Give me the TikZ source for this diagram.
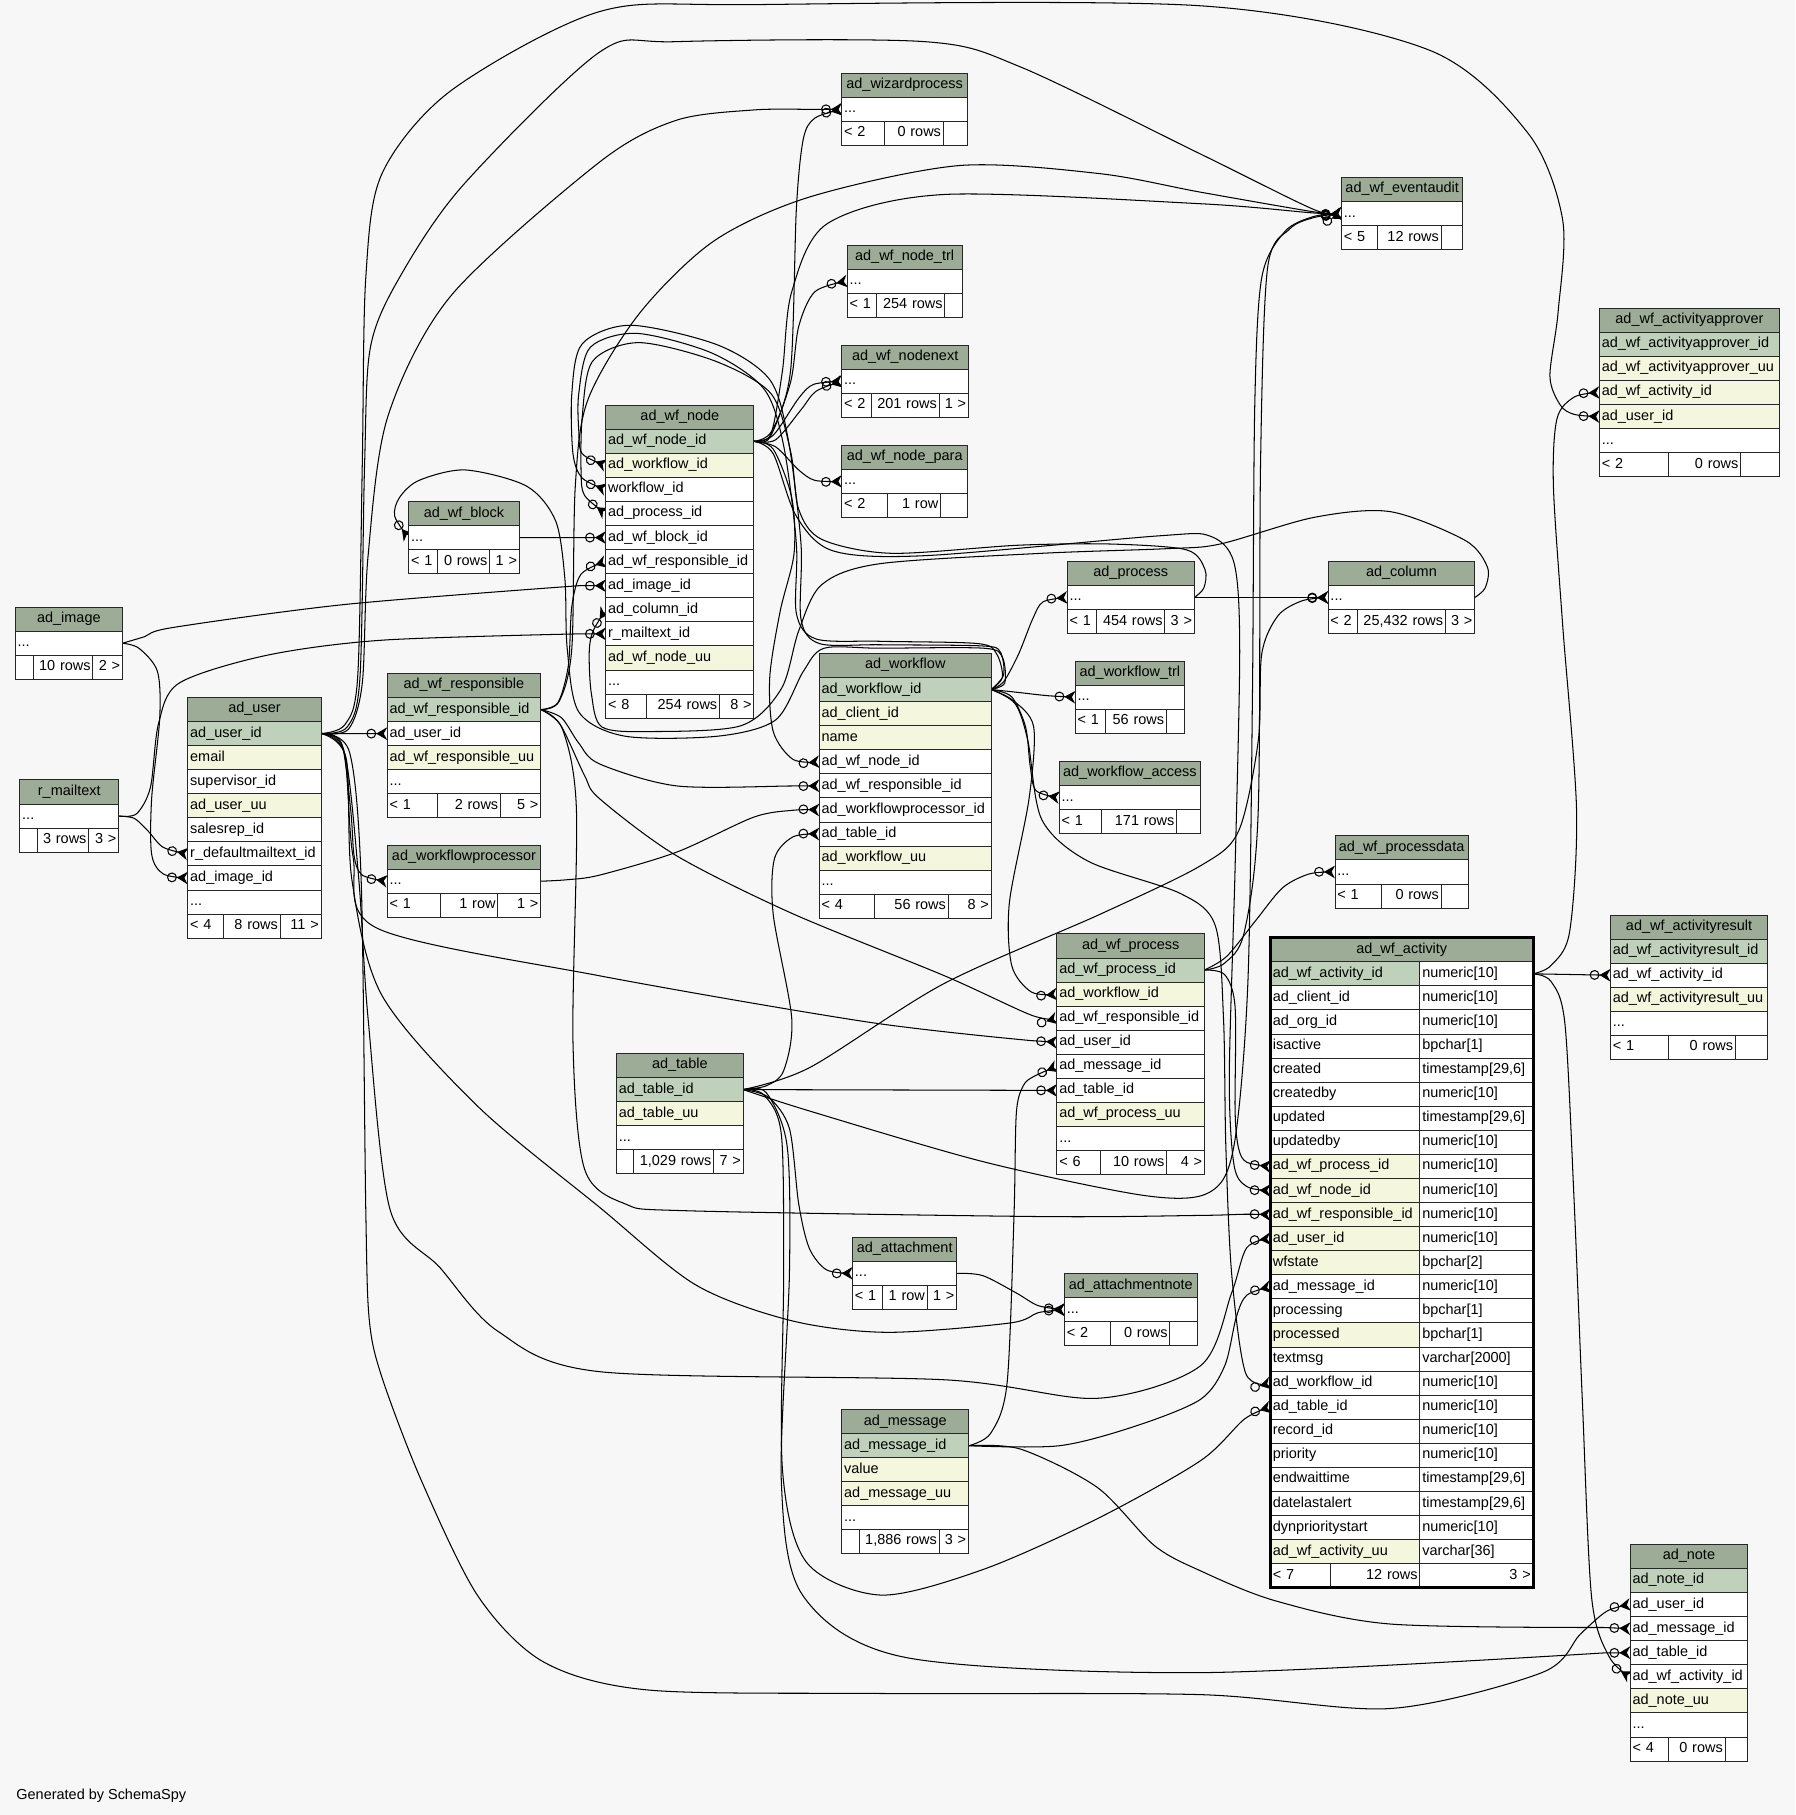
\documentclass[tikz,border=0pt]{standalone}
\usepackage{fontspec}
\setmainfont{Liberation Sans}
\usepackage{tikz}
\usetikzlibrary{arrows.meta}
\pgfdeclarelayer{bg}
\pgfsetlayers{bg,main}
\definecolor{hdg}{RGB}{157,172,150}
\definecolor{pkg}{RGB}{191,209,186}
\definecolor{ixy}{RGB}{244,247,221}
\definecolor{bgc}{RGB}{247,247,247}
\newcommand{\tblfont}{\fontsize{12.5}{15}\selectfont}
\newcommand{\ellip}{...}
\hyphenpenalty=10000
\exhyphenpenalty=10000
\tikzset{
  cell/.style={draw=black!85, line width=0.8pt, anchor=north west, outer sep=0pt, minimum height=20.8, inner xsep=2pt, inner ysep=0pt, text height=9pt, text depth=3pt, font=\tblfont, align=left},
  hdcell/.style={cell, fill=hdg, align=center},
  rel/.style={line width=0.9pt, -{Circle[open,length=8.5pt,width=8.5pt] Stealth[reversed,length=9.5pt,width=11pt,inset=3pt]}}
}
% table: name, x, y, width, title, rows (key/colour/text)
\newcommand{\dbtable}[6]{%
  \node[hdcell, minimum width=#4, text width=#4-4] (#1) at (#2,#3) {#5};
  \foreach \rk/\rc/\rt [count=\rn] in {#6}
    \node[cell, fill=\rc, minimum width=#4, text width=#4-4] (#1-\rk) at (#2,#3+20.8*\rn) {\rt};
}
% footer: name, y, x0, x1, x2, x3, three texts
\newcommand{\dbfoot}[9]{%
  \node[cell, fill=white, minimum width=#4-#3, text width=#4-#3-4] (#1-f1) at (#3,#2) {#7};
  \node[cell, fill=white, minimum width=#5-#4, text width=#5-#4-4, align=right] (#1-f2) at (#4,#2) {#8};
  \node[cell, fill=white, minimum width=#6-#5, text width=#6-#5-4, align=right] (#1-f3) at (#5,#2) {#9};
}
\begin{document}
\begin{tikzpicture}[x=1pt, y=-1pt]
\useasboundingbox (0,0) rectangle (1551,1568);
% tables
\dbtable{wizard}{727.3}{63.3}{108.5}{ad\_wizardprocess}{dots/white/\ellip}
\dbfoot{wizard}{104.9}{727.3}{764.3}{814.9}{835.8}{< 2}{0 rows}{}
\dbtable{eventaudit}{1158.9}{153.3}{104.9}{ad\_wf\_eventaudit}{dots/white/\ellip}
\dbfoot{eventaudit}{194.9}{1158.9}{1189.7}{1245.1}{1263.8}{< 5}{12 rows}{}
\dbtable{nodetrl}{731.9}{211.7}{99.2}{ad\_wf\_node\_trl}{dots/white/\ellip}
\dbfoot{nodetrl}{253.3}{731.9}{757.4}{816.3}{831.1}{< 1}{254 rows}{}
\dbtable{nodenext}{727.3}{298.3}{109.4}{ad\_wf\_nodenext}{dots/white/\ellip}
\dbfoot{nodenext}{339.9}{727.3}{752.5}{811.3}{836.7}{< 2}{201 rows}{1 >}
\dbtable{nodepara}{727.3}{384.7}{108.5}{ad\_wf\_node\_para}{dots/white/\ellip}
\dbfoot{nodepara}{426.3}{727.3}{766.3}{812.6}{835.8}{< 2}{1 row}{}
\dbtable{approver}{1381.8}{266.3}{155.4}{ad\_wf\_activityapprover}{id/pkg/ad\_wf\_activityapprover\_id,uu/ixy/ad\_wf\_activityapprover\_uu,act/ixy/ad\_wf\_activity\_id,user/ixy/ad\_user\_id,dots/white/\ellip}
\dbfoot{approver}{391.1}{1381.8}{1441.8}{1503.8}{1537.2}{< 2}{0 rows}{}
\dbtable{wfnode}{523.4}{350}{127.9}{ad\_wf\_node}{id/pkg/ad\_wf\_node\_id,wf/ixy/ad\_workflow\_id,wf2/white/workflow\_id,proc/white/ad\_process\_id,blk/white/ad\_wf\_block\_id,resp/white/ad\_wf\_responsible\_id,img/white/ad\_image\_id,col/white/ad\_column\_id,mail/white/r\_mailtext\_id,uu/ixy/ad\_wf\_node\_uu,dots/white/\ellip}
\dbfoot{wfnode}{599.6}{523.4}{558.2}{621.6}{651.3}{< 8}{254 rows}{8 >}
\dbtable{block}{353.1}{433.3}{95.5}{ad\_wf\_block}{dots/white/\ellip}
\dbfoot{block}{474.9}{353.1}{377.9}{423.1}{448.6}{< 1}{0 rows}{1 >}
\dbtable{process}{922}{485}{109.8}{ad\_process}{dots/white/\ellip}
\dbfoot{process}{526.6}{922}{947.2}{1006.3}{1031.8}{< 1}{454 rows}{3 >}
\dbtable{column}{1147.4}{485}{126.6}{ad\_column}{dots/white/\ellip}
\dbfoot{column}{526.6}{1147.4}{1172.3}{1248.7}{1274}{< 2}{25,432 rows}{3 >}
\dbtable{image}{13.2}{524.5}{92.6}{ad\_image}{dots/white/\ellip}
\dbfoot{image}{566.1}{13.2}{29.1}{80.3}{105.8}{}{10 rows}{2 >}
\dbtable{user}{162.3}{602.5}{115.1}{ad\_user}{id/pkg/ad\_user\_id,email/ixy/email,sup/white/supervisor\_id,uu/ixy/ad\_user\_uu,rep/white/salesrep\_id,mail/white/r\_defaultmailtext\_id,img/white/ad\_image\_id,dots/white/\ellip}
\dbfoot{user}{789.7}{162.3}{193.4}{242}{277.4}{< 4}{8 rows}{11 >}
\dbtable{resp}{334.5}{581.8}{132.6}{ad\_wf\_responsible}{id/pkg/ad\_wf\_responsible\_id,user/white/ad\_user\_id,uu/ixy/ad\_wf\_responsible\_uu,dots/white/\ellip}
\dbfoot{resp}{685.8}{334.5}{377.9}{432.4}{467.1}{< 1}{2 rows}{5 >}
\dbtable{mailtext}{17.2}{673.8}{85.3}{r\_mailtext}{dots/white/\ellip}
\dbfoot{mailtext}{715.4}{17.2}{32.1}{76.7}{102.5}{}{3 rows}{3 >}
\dbtable{wfproc}{334.5}{730.1}{132.6}{ad\_workflowprocessor}{dots/white/\ellip}
\dbfoot{wfproc}{771.7}{334.5}{380.8}{430.1}{467.1}{< 1}{1 row}{1 >}
\dbtable{workflow}{707.8}{564.5}{148.5}{ad\_workflow}{id/pkg/ad\_workflow\_id,client/ixy/ad\_client\_id,name/ixy/name,node/white/ad\_wf\_node\_id,resp/white/ad\_wf\_responsible\_id,proc/white/ad\_workflowprocessor\_id,table/white/ad\_table\_id,uu/ixy/ad\_workflow\_uu,dots/white/\ellip}
\dbfoot{workflow}{772.5}{707.8}{755.8}{819.2}{856.3}{< 4}{56 rows}{8 >}
\dbtable{wftrl}{929}{571.1}{94.2}{ad\_workflow\_trl}{dots/white/\ellip}
\dbfoot{wftrl}{612.7}{929}{955.4}{1007.7}{1023.2}{< 1}{56 rows}{}
\dbtable{access}{915.1}{657.8}{122}{ad\_workflow\_access}{dots/white/\ellip}
\dbfoot{access}{699.4}{915.1}{951.5}{1016.6}{1037.1}{< 1}{171 rows}{}
\dbtable{procdata}{1153.3}{722.1}{115.1}{ad\_wf\_processdata}{dots/white/\ellip}
\dbfoot{procdata}{763.7}{1153.3}{1193.6}{1245.1}{1268.4}{< 1}{0 rows}{}
\dbtable{wfprocess}{913.1}{806.8}{127.4}{ad\_wf\_process}{id/pkg/ad\_wf\_process\_id,wf/ixy/ad\_workflow\_id,resp/white/ad\_wf\_responsible\_id,user/white/ad\_user\_id,msg/white/ad\_message\_id,table/white/ad\_table\_id,uu/ixy/ad\_wf\_process\_uu,dots/white/\ellip}
\dbfoot{wfprocess}{994}{913.1}{950.8}{1008}{1040.5}{< 6}{10 rows}{4 >}
\dbtable{result}{1391.3}{790.5}{135.8}{ad\_wf\_activityresult}{id/pkg/ad\_wf\_activityresult\_id,act/white/ad\_wf\_activity\_id,uu/ixy/ad\_wf\_activityresult\_uu,dots/white/\ellip}
\dbfoot{result}{894.5}{1391.3}{1441.8}{1499.2}{1527.1}{< 1}{0 rows}{}
\dbtable{table}{532.6}{910.1}{109.4}{ad\_table}{id/pkg/ad\_table\_id,uu/ixy/ad\_table\_uu,dots/white/\ellip}
\dbfoot{table}{993.3}{532.6}{547.5}{616.6}{642}{}{1,029 rows}{7 >}
\dbtable{attach}{736.6}{1068.8}{89.9}{ad\_attachment}{dots/white/\ellip}
\dbfoot{attach}{1110.4}{736.6}{762}{801}{826.5}{< 1}{1 row}{1 >}
\dbtable{attnote}{919.7}{1100.2}{114.4}{ad\_attachmentnote}{dots/white/\ellip}
\dbfoot{attnote}{1141.8}{919.7}{959.1}{1010.6}{1034.1}{< 2}{0 rows}{}
\dbtable{message}{727.3}{1217.8}{109.4}{ad\_message}{id/pkg/ad\_message\_id,value/ixy/value,uu/ixy/ad\_message\_uu,dots/white/\ellip}
\dbfoot{message}{1321}{727.3}{742.2}{811.3}{836.7}{}{1,886 rows}{3 >}
\dbtable{note}{1408.4}{1334.2}{101.3}{ad\_note}{id/pkg/ad\_note\_id,user/white/ad\_user\_id,msg/white/ad\_message\_id,table/white/ad\_table\_id,act/white/ad\_wf\_activity\_id,uu/ixy/ad\_note\_uu,dots/white/\ellip}
\dbfoot{note}{1500.6}{1408.4}{1441.8}{1490.3}{1509.7}{< 4}{0 rows}{}
% the selected table, with column types
\node[hdcell, minimum width=226.8, text width=222.8] (act) at (1097.6,810.1) {ad\_wf\_activity};
\foreach \rk/\rc/\rt/\ry [count=\rn] in {id/pkg/ad\_wf\_activity\_id/numeric[10],client/white/ad\_client\_id/numeric[10],org/white/ad\_org\_id/numeric[10],active/white/isactive/bpchar[1],created/white/created/{timestamp[29,6]},createdby/white/createdby/numeric[10],updated/white/updated/{timestamp[29,6]},updatedby/white/updatedby/numeric[10],proc/ixy/ad\_wf\_process\_id/numeric[10],node/ixy/ad\_wf\_node\_id/numeric[10],resp/ixy/ad\_wf\_responsible\_id/numeric[10],user/ixy/ad\_user\_id/numeric[10],state/ixy/wfstate/bpchar[2],msg/white/ad\_message\_id/numeric[10],processing/white/processing/bpchar[1],processed/ixy/processed/bpchar[1],text/white/textmsg/varchar[2000],wf/white/ad\_workflow\_id/numeric[10],table/white/ad\_table\_id/numeric[10],record/white/record\_id/numeric[10],priority/white/priority/numeric[10],endwait/white/endwaittime/{timestamp[29,6]},lastalert/white/datelastalert/{timestamp[29,6]},dynprio/white/dynprioritystart/numeric[10],uu/ixy/ad\_wf\_activity\_uu/varchar[36]}{
  \node[cell, fill=\rc, minimum width=129.1, text width=125.1] (act-\rk) at (1097.6,810.1+20.8*\rn) {\rt};
  \node[cell, fill=white, minimum width=97.7, text width=93.7] (act-\rk-t) at (1226.7,810.1+20.8*\rn) {\ry};
}
\dbfoot{act}{1350.9}{1097.6}{1149.7}{1226.7}{1324.4}{< 7}{12 rows}{3 >}
\draw[line width=2.6pt] (act.north west) rectangle (act-f3.south east);
\node[anchor=west, font=\tblfont, inner sep=0pt] (credit) at (14,1551) {Generated by SchemaSpy};
% relations
\begin{pgfonlayer}{bg}
\fill[bgc] (0,0) rectangle (1551,1568);
% ad_wf_node
\draw[rel] plot[smooth] coordinates {(wfnode-id.east) (665,378) (683,330) (690,282) (704,252) (nodetrl-dots.west)};
\draw[rel] plot[smooth] coordinates {(wfnode-id.east) (668,376) (690,344) (703,332) (nodenext-dots.west)};
\draw[rel] plot[smooth] coordinates {(wfnode-id.east) (670,380) (692,354) (705,338) (nodenext-dots.west)};
\draw[rel] plot[smooth] coordinates {(wfnode-id.east) (670,386) (690,406) (704,415) (nodepara-dots.west)};
\draw[rel] plot[smooth] coordinates {(wfnode-id.east) (667,372) (683,320) (688,180) (694,120) (704,102) (wizard-dots.west)};
\draw[rel] plot[smooth] coordinates {(wfnode-id.east) (666,375) (676,320) (684,252) (715,193) (816,168) (1037,176) (1135,184) (eventaudit-dots.west)};
\draw[rel] plot[smooth] coordinates {(wfnode-id.east) (668,388) (684,430) (686,478) (674,528) (665,585) (668,632) (685,656) (workflow-node.west)};
\draw[rel] plot[smooth] coordinates {(wfnode-id.east) (668,392) (688,446) (720,476) (800,480) (1000,463) (1045,463) (1066,486) (1071,560) (1067,750) (1062,930) (1066,1006) (1077,1025) (act-node.west)};
% ad_workflow
\draw[rel] plot[smooth] coordinates {(workflow-id.east) (878,598) (905,601) (wftrl-dots.west)};
\draw[rel] plot[smooth] coordinates {(workflow-id.east) (874,602) (886,628) (890,662) (895,683) (access-dots.west)};
\draw[rel] plot[smooth] coordinates {(workflow-id.east) (867,589) (880,565) (892,535) (901,520) (process-dots.west)};
\draw[rel] plot[smooth] coordinates {(workflow-id.east) (875,605) (893,628) (889,690) (872,780) (874,834) (891,857) (wfprocess-wf.west)};
\draw[rel] plot[smooth] coordinates {(workflow-id.east) (877,608) (888,640) (900,708) (940,744) (1020,772) (1050,800) (1057,880) (1059,990) (1064,1100) (1076,1186) (act-wf.west)};
\draw[rel] plot[smooth] coordinates {(workflow-id.east) (866,585) (861,565) (845,556) (760,554) (705,552) (688,530) (688,470) (677,385) (660,336) (615,305) (550,288) (510,300) (500,340) (500,372) (503,392) (wfnode-wf.west)};
\draw[rel] plot[smooth] coordinates {(workflow-id.east) (867,583) (864,563) (848,558) (760,557) (708,556) (692,535) (692,470) (681,380) (665,328) (620,298) (545,281) (503,297) (494,340) (495,392) (503,413) (wfnode-wf2.west)};
\draw[rel] plot[smooth] coordinates {(workflow-id.east) (868,590) (866,568) (850,560) (760,560) (712,560) (694,580) (670,622) (620,636) (540,636) (500,615) (490,560) (488,500) (480,450) (455,420) (402,406) (362,415) (345,430) (341,446) (block-dots.west)};
% ad_process, ad_column
\draw[rel] (process-dots.east) -- (column-dots.west);
\draw[rel] plot[smooth] coordinates {(process-dots.east) (1040,508) (1041,492) (1025,475) (960,470) (880,471) (770,478) (710,466) (690,440) (683,390) (666,340) (618,312) (552,296) (512,312) (503,360) (502,408) (505,428) (wfnode-proc.west)};
\draw[rel] plot[smooth] coordinates {(column-dots.east) (1283,508) (1285,490) (1266,467) (1201,442) (1135,447) (1054,470) (1008,474) (900,478) (760,487) (710,505) (690,545) (675,595) (640,627) (560,632) (520,628) (511,600) (509,565) (512,546) (wfnode-col.west)};
% ad_table
\draw[rel] (table-id.east) -- (wfprocess-table.west);
\draw[rel] plot[smooth] coordinates {(table-id.east) (700,922) (815,850) (950,790) (1037,748) (1070,718) (1087,640) (1090,565) (1104,532) (1125,519) (column-dots.west)};
\draw[rel] plot[smooth] coordinates {(table-id.east) (700,960) (851,1004) (990,1033) (1045,1030) (1066,990) (1078,850) (1082,600) (1084,350) (1090,240) (1110,200) (1135,187) (eventaudit-dots.west)};
\draw[rel] plot[smooth] coordinates {(table-id.east) (662,938) (677,925) (684,880) (668,790) (669,742) (685,723) (workflow-table.west)};
\draw[rel] plot[smooth] coordinates {(table-id.east) (664,948) (682,975) (690,1040) (699,1078) (714,1097) (attach-dots.west)};
\draw[rel] plot[smooth] coordinates {(table-id.east) (660,946) (675,980) (677,1100) (676,1270) (697,1350) (761,1378) (849,1356) (948,1312) (1037,1262) (1075,1226) (act-table.west)};
\draw[rel] plot[smooth] coordinates {(table-id.east) (662,944) (680,990) (682,1100) (675,1280) (694,1379) (783,1432) (1037,1445) (1385,1428)} -- (note-table.west);
% ad_message
\draw[rel] plot[smooth] coordinates {(message-id.east) (856,1238) (870,1195) (876,1050) (878,962) (884,938) (893,930) (wfprocess-msg.west)};
\draw[rel] plot[smooth] coordinates {(message-id.east) (915,1249) (981,1232) (1037,1209) (1058,1180) (1068,1138) (1077,1119) (act-msg.west)};
\draw[rel] plot[smooth] coordinates {(message-id.east) (882,1252) (948,1285) (997,1335) (1037,1357) (1102,1383) (1201,1403) (1385,1406)} -- (note-msg.west);
% ad_wf_process
\draw[rel] plot[smooth] coordinates {(wfprocess-id.east) (1060,826) (1085,795) (1108,767) (1131,755) (procdata-dots.west)};
\draw[rel] plot[smooth] coordinates {(wfprocess-id.east) (1058,842) (1067,870) (1067,960) (1070,992) (1077,1004) (act-proc.west)};
\draw[rel] plot[smooth] coordinates {(wfprocess-id.east) (1058,832) (1075,805) (1087,700) (1089,400) (1095,232) (1114,198) (1135,188) (eventaudit-dots.west)};
% ad_wf_activity
\draw[rel] (act-id-t.east) -- (result-act.west);
\draw[rel] plot[smooth] coordinates {(act-id-t.east) (1340,834) (1356,805) (1362,700) (1350,540) (1342,420) (1345,362) (1360,343) (approver-act.west)};
\draw[rel] plot[smooth] coordinates {(act-id-t.east) (1340,848) (1352,885) (1360,1040) (1367,1210) (1375,1380) (1390,1431) (note-act.west)};
\draw[rel] plot[smooth] coordinates {(attach-dots.east) (849,1102) (878,1117) (897,1128) (attnote-dots.west)};
% ad_user
\draw[rel] (user-id.east) -- (resp-user.west);
\draw[rel] plot[smooth] coordinates {(user-id.east) (295,642) (303,700) (306,740) (313,756) (wfproc-dots.west)};
\draw[rel] plot[smooth] coordinates {(user-id.east) (298,626) (309,585) (313,400) (316,240) (330,150) (390,78) (518,10) (650,4) (1037,5) (1234,43) (1320,115) (1350,190) (1346,270) (1339,325) (1348,350) (1360,358) (approver-user.west)};
\draw[rel] plot[smooth] coordinates {(user-id.east) (300,628) (311,585) (315,400) (320,300) (345,240) (400,160) (518,45) (584,36) (799,36) (882,58) (1037,133) (1135,181) (eventaudit-dots.west)};
\draw[rel] plot[smooth] coordinates {(user-id.east) (301,630) (313,590) (318,480) (335,360) (390,255) (518,140) (584,104) (651,95) (704,94.5) (wizard-dots.west)};
\draw[rel] plot[smooth] coordinates {(user-id.east) (297,648) (305,740) (326,802) (518,843) (750,883) (891,899)} -- (wfprocess-user.west);
\draw[rel] plot[smooth] coordinates {(user-id.east) (298,652) (310,760) (318,880) (337,1045) (380,1095) (430,1150) (518,1185) (816,1192) (948,1208) (1037,1180) (1064,1117) (1077,1078) (act-user.west)};
\draw[rel] plot[smooth] coordinates {(user-id.east) (299,655) (304,760) (330,860) (413,956) (518,1043) (601,1110) (684,1141) (766,1151) (872,1143) (897,1134) (attnote-dots.west)};
\draw[rel] plot[smooth] coordinates {(user-id.east) (302,650) (312,760) (316,1045) (319,1140) (330,1190) (364,1279) (413,1379) (470,1436) (560,1460) (760,1463) (1037,1464) (1201,1476) (1332,1445) (1365,1412) (1388,1392) (note-user.west)};
% ad_wf_responsible
\draw[rel] plot[smooth] coordinates {(resp-id.east) (482,607) (491,575) (494,524) (502,496) (wfnode-resp.west)};
\draw[rel] plot[smooth] coordinates {(resp-id.east) (483,606) (494,560) (497,420) (508,345) (553,270) (617,208) (700,170) (829,143) (950,150) (1037,166) (1135,183) (eventaudit-dots.west)};
\draw[rel] plot[smooth] coordinates {(resp-id.east) (485,620) (500,642) (518,660) (585,679) (685,679) (workflow-resp.west)};
\draw[rel] plot[smooth] coordinates {(resp-id.east) (484,626) (505,670) (518,690) (584,739) (684,789) (816,843) (891,877) (wfprocess-resp.west)};
\draw[rel] plot[smooth] coordinates {(resp-id.east) (486,630) (498,700) (495,900) (505,1010) (540,1040) (594,1046) (900,1051) (1037,1050) (1075,1049) (act-resp.west)};
% small parents
\draw[rel] plot[smooth] coordinates {(wfproc-dots.east) (490,760) (518,756) (585,736) (651,706) (685,700) (workflow-proc.west)};
\draw[rel] (block-dots.east) -- (wfnode-blk.west);
\draw[rel] plot[smooth] coordinates {(image-dots.east) (125,550) (150,542) (300,522) (500,506)} -- (wfnode-img.west);
\draw[rel] plot[smooth] coordinates {(image-dots.east) (120,560) (136,580) (138,620) (131,690) (131,738) (141,755) (user-img.west)};
\draw[rel] plot[smooth] coordinates {(mailtext-dots.east) (116,707) (128,718) (141,732) (user-mail.west)};
\draw[rel] plot[smooth] coordinates {(mailtext-dots.east) (118,703) (130,680) (137,625) (155,590) (231,566) (331,553) (500,547.6)} -- (wfnode-mail.west);
\end{pgfonlayer}
\end{tikzpicture}
\end{document}
